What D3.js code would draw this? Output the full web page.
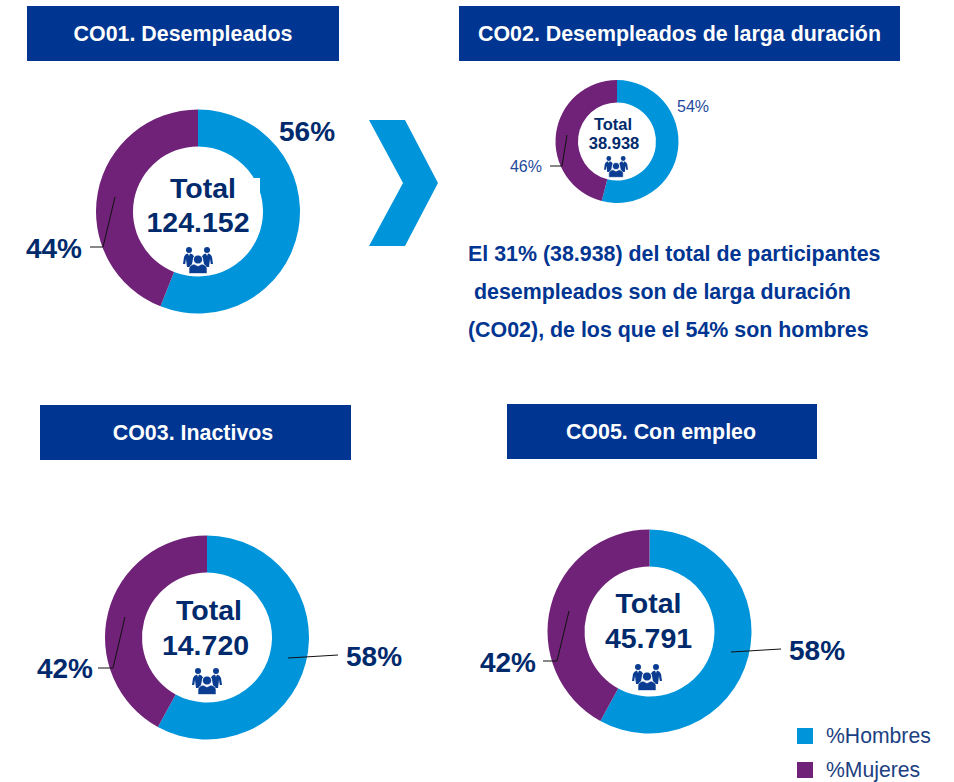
<!DOCTYPE html>
<html><head><meta charset="utf-8">
<script src="https://cdn.jsdelivr.net/npm/d3@7/dist/d3.min.js"></script>
<style>html,body{margin:0;padding:0;background:#fff}svg{display:block}text{font-family:"Liberation Sans",Arial,sans-serif}</style>
</head><body><svg id="c" width="954" height="782"></svg>
<script>
const seriesNames = ["%Hombres", "%Mujeres"];
const codes = ["CO01", "CO02", "CO03", "CO05"];
const titles = ["CO01. Desempleados", "CO02. Desempleados de larga duración", "CO03. Inactivos", "CO05. Con empleo"];
const hombres = [56, 54, 58, 58];
const mujeres = [44, 46, 42, 42];
const totals = ["124.152", "38.938", "14.720", "45.791"];
const paragraph = ["El 31% (38.938) del total de participantes", " desempleados son de larga duración", "(CO02), de los que el 54% son hombres"];

const BLUE = "#0094da", PURPLE = "#6f2277", NAVY = "#002a6c", HEAD = "#003591", MID = "#1f4a9c";
const svg = d3.select("#c");
const color = d3.scaleOrdinal(seriesNames, [BLUE, PURPLE]);

const headerBoxes = [[27,6,312,55,0],[459,6,441,55,0],[40,405,311,55,-2.5],[507,404,310,55,-1]];
headerBoxes.forEach((b,i)=>{
  svg.append("rect").attr("x",b[0]).attr("y",b[1]).attr("width",b[2]).attr("height",b[3]).attr("fill",HEAD);
  svg.append("text").attr("x",b[0]+b[2]/2+b[4]).attr("y",b[1]+b[3]/2+7).attr("text-anchor","middle")
    .attr("fill","#fff").attr("font-weight","bold").attr("font-size",21.4).text(titles[i]);
});

const chevron = [[369,120],[405,120],[438,183],[405,246],[369,246],[403,183]];
svg.append("path").attr("d", d3.line()(chevron)+"Z").attr("fill",BLUE);

const layout = [
 {cx:198,cy:211.5,R:102,r:65,fs:28.5,totalDy:[-14,20],totalX:[5,0],icon:[198,260,1],lf:28,lc:NAVY,lw:"bold",
  left:[[115,197],[103,247],[90,247]], leftT:[82,258,"end"], right:null, rightT:[279,141,"start"]},
 {cx:617,cy:141.5,R:61.5,r:39,fs:16.5,totalDy:[-12,7],totalX:[-4,-3],icon:[616,166.5,.8],lf:16,lc:MID,lw:"normal",
  left:[[567,135],[562,166],[550,166]], leftT:[542,172,"end"], right:null, rightT:[677,112,"start"]},
 {cx:207,cy:637.5,R:102,r:65,fs:28.5,totalDy:[-18,17],totalX:[2,-1.5],icon:[207,681,1],lf:28,lc:NAVY,lw:"bold",
  left:[[125,617],[113,668],[98,668]], leftT:[93,678,"end"], right:[[288,658],[338,655]], rightT:[346,666,"start"]},
 {cx:649.5,cy:631.5,R:102,r:65,fs:28.5,totalDy:[-19,16],totalX:[-1,-1],icon:[647,677,1],lf:28,lc:NAVY,lw:"bold",
  left:[[569,611],[557,661],[543,661]], leftT:[536,672,"end"], right:[[731,652],[781,649]], rightT:[789,660,"start"]}
];

const pie = d3.pie().sort(null);
function people(g, x, y, s){
  const p = g.append("g").attr("transform",`translate(${x},${y}) scale(${s})`).attr("fill","#0a3d91");
  [[-9,-10],[9,-10]].forEach(h=>p.append("circle").attr("cx",h[0]).attr("cy",h[1]).attr("r",3));
  const back = "M-15,4 L-14,-3 Q-13,-6 -10,-6.5 L-9,-4 L-8,-6.5 Q-5,-6 -4,-3.5 L-5,-1 L-6,4 L-8,7 L-11,7 L-12,-1 L-12.8,4 Z";
  p.append("path").attr("d",back);
  p.append("path").attr("d",back).attr("transform","scale(-1,1)");
  p.append("circle").attr("cx",0).attr("cy",-0.5).attr("r",4.6).attr("stroke","#fff").attr("stroke-width",1);
  p.append("path").attr("d","M-9,13.5 L-9,8 Q-8.5,5 -4,4 L0,6 L4,4 Q8.5,5 9,8 L9,13.5 Z").attr("stroke","#fff").attr("stroke-width",.6);
}

layout.forEach((L,i)=>{
  const g = svg.append("g");
  const arc = d3.arc().innerRadius(L.r).outerRadius(L.R);
  g.selectAll("path.s").data(pie([hombres[i],mujeres[i]])).join("path")
    .attr("class","s").attr("transform",`translate(${L.cx},${L.cy})`)
    .attr("d",arc).attr("fill",(d,j)=>color(seriesNames[j]));
  if(i===0) g.append("rect").attr("x",247).attr("y",178).attr("width",13).attr("height",14).attr("fill","#fff");
  const lineGen = d3.line();
  g.append("path").attr("d",lineGen(L.left)).attr("fill","none").attr("stroke","#111").attr("stroke-width",1);
  if(L.right) g.append("path").attr("d",lineGen(L.right)).attr("fill","none").attr("stroke","#111").attr("stroke-width",1);
  const lab=(t,p)=>g.append("text").attr("x",p[0]).attr("y",p[1]).attr("text-anchor",p[2])
    .attr("font-size",L.lf).attr("font-weight",L.lw).attr("fill",L.lc).text(t);
  lab(mujeres[i]+"%",L.leftT);
  lab(hombres[i]+"%",L.rightT);
  [["Total",L.totalDy[0],L.totalX[0]],[totals[i],L.totalDy[1],L.totalX[1]]].forEach(t=>{
    g.append("text").attr("x",L.cx+t[2]).attr("y",L.cy+t[1]).attr("text-anchor","middle")
      .attr("font-size",L.fs).attr("font-weight","bold").attr("fill",NAVY).text(t[0]);
  });
  people(g,L.icon[0],L.icon[1],L.icon[2]);
});

const paraPos = [[468,261],[474,299],[468,337]];
paragraph.forEach((t,i)=>svg.append("text").attr("x",paraPos[i][0]).attr("y",paraPos[i][1])
  .attr("font-size",21.4).attr("font-weight","bold").attr("fill",HEAD).text(t.trim()));

const legendY = [736,770];
seriesNames.forEach((n,i)=>{
  svg.append("rect").attr("x",797).attr("y",legendY[i]-8).attr("width",16).attr("height",16).attr("fill",color(n));
  svg.append("text").attr("x",826).attr("y",legendY[i]+7).attr("font-size",21.2).attr("fill","#1c3f82").text(n);
});
</script></body></html>
